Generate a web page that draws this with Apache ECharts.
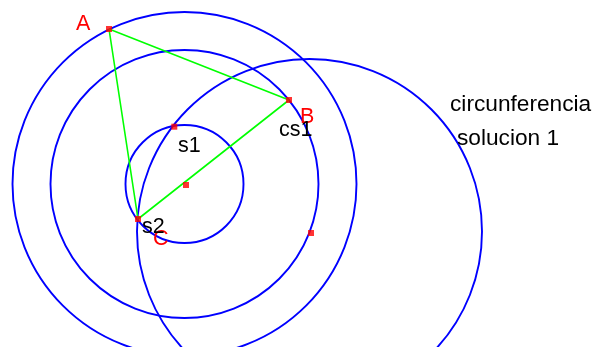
<!DOCTYPE html>
<html>
<head>
<meta charset="utf-8">
<script src="https://cdn.jsdelivr.net/npm/echarts@6/dist/echarts.min.js"></script>
<style>
  html, body { margin: 0; padding: 0; background: #fff; }
  #main { width: 598px; height: 347px; }
</style>
</head>
<body>
<div id="main"></div>
<script>
// figure coordinates (x right, y down), circle = [cx, cy, r]
var circles = [
  [184.5, 184, 172],
  [184.5, 184, 134],
  [184.5, 184, 59],
  [309.5, 231.5, 172.5]
];
var triangle = [[109, 29], [289, 100], [138, 219], [109, 29]];
var points = [[109, 29], [289, 100], [174.3, 126.7], [186, 185], [138, 219], [311, 233]];
// [text, left, baseline]
var redLabels = [['A', 76, 32], ['B', 300, 125], ['C', 153, 247]];
var blackLabels = [['s1', 178, 154], ['s2', 142, 235], ['cs1', 279, 138]];
var noteLabels = [['circunferencia', 450, 113], ['solucion 1', 457, 147]];

var chart = echarts.init(document.getElementById('main'));

function circleItem(params, api) {
  var c = api.coord([api.value(0), api.value(1)]);
  var r = api.size([api.value(2), 0])[0];
  return {
    type: 'circle',
    shape: { cx: c[0], cy: c[1], r: r },
    style: { fill: null, stroke: '#0000ff', lineWidth: 1.9 }
  };
}

function textSeries(list, color, size) {
  return {
    type: 'custom',
    coordinateSystem: 'cartesian2d',
    data: list.map(function (d) { return [d[1], d[2]]; }),
    renderItem: function (params, api) {
      var p = api.coord([api.value(0), api.value(1)]);
      return {
        type: 'text',
        style: {
          text: list[params.dataIndex][0],
          x: p[0],
          y: p[1] - size * 0.35,
          fill: color,
          font: size + 'px "Liberation Sans", Arial, sans-serif',
          align: 'left',
          verticalAlign: 'middle'
        }
      };
    },
    z: 5
  };
}

var option = {
  animation: false,
  grid: { left: 0, right: 0, top: 0, bottom: 0 },
  xAxis: { type: 'value', min: 0, max: 598, show: false },
  yAxis: { type: 'value', min: 0, max: 347, inverse: true, show: false },
  series: [
    {
      type: 'custom',
      coordinateSystem: 'cartesian2d',
      data: circles,
      renderItem: circleItem,
      z: 1
    },
    {
      type: 'line',
      data: triangle,
      symbol: 'none',
      lineStyle: { color: '#00ff00', width: 1.6 },
      z: 2
    },
    {
      type: 'scatter',
      data: points,
      symbol: 'rect',
      symbolSize: 6,
      itemStyle: { color: '#ff0000' },
      z: 3
    },
    textSeries(redLabels, '#ff0000', 21.5),
    textSeries(blackLabels, '#000000', 21.5),
    textSeries(noteLabels, '#000000', 22.7)
  ]
};
chart.setOption(option);
</script>
</body>
</html>
